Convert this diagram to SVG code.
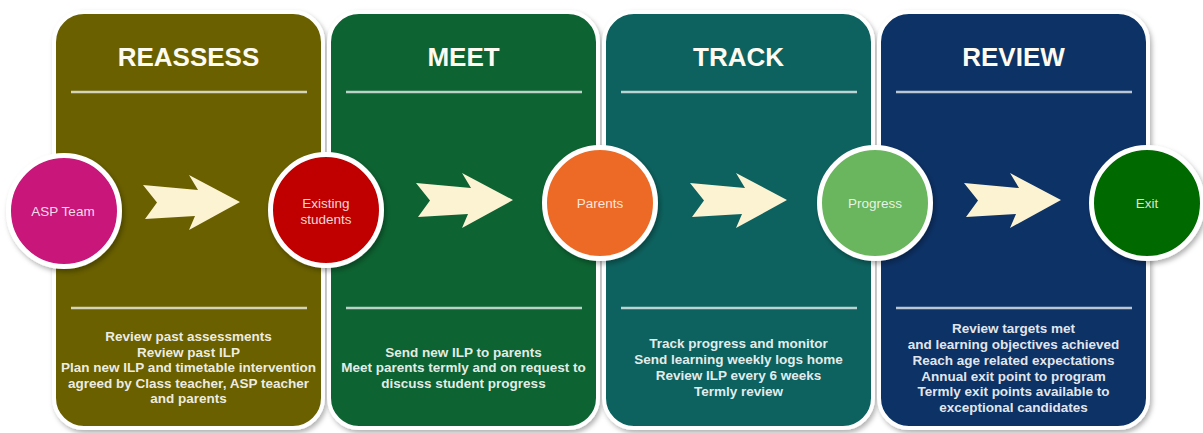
<svg xmlns="http://www.w3.org/2000/svg" width="1203" height="433" viewBox="0 0 1203 433">
<defs>
<filter id="sh" x="-10%" y="-10%" width="125%" height="125%"><feDropShadow dx="2" dy="3" stdDeviation="2.5" flood-color="#000" flood-opacity="0.3"/></filter>
<path id="arr" d="M0,10 L55,15 L46,0 L97,27 L46,55 L52,41 L2,44 L14,27.5 Z"/>
</defs>
<style>
.panel{stroke:#fff;stroke-width:4;filter:url(#sh)}
.div{stroke:#fff;stroke-opacity:0.72;stroke-width:2.5}
.title{font-family:"Liberation Sans",Arial,sans-serif;font-weight:bold;font-size:26px;fill:#fdfbf2;text-anchor:middle}
.body{font-family:"Liberation Sans",Arial,sans-serif;font-weight:bold;font-size:13.5px;fill:#fff;fill-opacity:0.9;text-anchor:middle}
.node{stroke:#fff;stroke-width:5;filter:url(#sh)}
.lbl{font-family:"Liberation Sans",Arial,sans-serif;font-size:13.5px;fill:#fff;fill-opacity:0.85;text-anchor:middle}
.arrow{fill:#fcf3d3}
</style>
<rect width="1203" height="433" fill="#fff"/>
<g id="panel-reassess">
<rect class="panel" x="54" y="12" width="269" height="416" rx="30" fill="#6a6100"/>
<text class="title" x="188.5" y="66">REASSESS</text>
<line class="div" x1="71" y1="92" x2="307" y2="92"/>
<line class="div" x1="71" y1="308" x2="307" y2="308"/>
<text class="body" x="188.5" y="341">Review past assessments</text>
<text class="body" x="188.5" y="357">Review past ILP</text>
<text class="body" x="188.5" y="372">Plan new ILP and timetable intervention</text>
<text class="body" x="188.5" y="388">agreed by Class teacher, ASP teacher</text>
<text class="body" x="188.5" y="403">and parents</text>
</g>
<g id="panel-meet">
<rect class="panel" x="329" y="12" width="269" height="416" rx="30" fill="#0d6432"/>
<text class="title" x="463.5" y="66">MEET</text>
<line class="div" x1="346" y1="92" x2="582" y2="92"/>
<line class="div" x1="346" y1="308" x2="582" y2="308"/>
<text class="body" x="463.5" y="357">Send new ILP to parents</text>
<text class="body" x="463.5" y="372">Meet parents termly and on request to</text>
<text class="body" x="463.5" y="388">discuss student progress</text>
</g>
<g id="panel-track">
<rect class="panel" x="604" y="12" width="269" height="416" rx="30" fill="#07625f"/>
<text class="title" x="738.5" y="66">TRACK</text>
<line class="div" x1="621" y1="92" x2="857" y2="92"/>
<line class="div" x1="621" y1="308" x2="857" y2="308"/>
<text class="body" x="738.5" y="348">Track progress and monitor</text>
<text class="body" x="738.5" y="364">Send learning weekly logs home</text>
<text class="body" x="738.5" y="380">Review ILP every 6 weeks</text>
<text class="body" x="738.5" y="396">Termly review</text>
</g>
<g id="panel-review">
<rect class="panel" x="879" y="12" width="269" height="416" rx="30" fill="#073366"/>
<text class="title" x="1013.5" y="66">REVIEW</text>
<line class="div" x1="896" y1="92" x2="1132" y2="92"/>
<line class="div" x1="896" y1="308" x2="1132" y2="308"/>
<text class="body" x="1013.5" y="333">Review targets met</text>
<text class="body" x="1013.5" y="349">and learning objectives achieved</text>
<text class="body" x="1013.5" y="365">Reach age related expectations</text>
<text class="body" x="1013.5" y="381">Annual exit point to program</text>
<text class="body" x="1013.5" y="396">Termly exit points available to</text>
<text class="body" x="1013.5" y="412">exceptional candidates</text>
</g>
<g id="connectors">
<use href="#arr" class="arrow" x="143" y="175"/>
<use href="#arr" class="arrow" x="416" y="173"/>
<use href="#arr" class="arrow" x="690" y="173"/>
<use href="#arr" class="arrow" x="964" y="173"/>
</g>
<g id="node-asp-team">
<circle class="node" cx="64" cy="211" r="55.5" fill="#c8157a"/>
<text class="lbl" x="63" y="216">ASP Team</text>
</g>
<g id="node-existing-students">
<circle class="node" cx="326" cy="210" r="55.5" fill="#c00000"/>
<text class="lbl" x="326" y="208">Existing</text>
<text class="lbl" x="326" y="224">students</text>
</g>
<g id="node-parents">
<circle class="node" cx="600" cy="203" r="55.5" fill="#ec6b25"/>
<text class="lbl" x="600" y="208">Parents</text>
</g>
<g id="node-progress">
<circle class="node" cx="875" cy="203" r="55.5" fill="#6bb65e"/>
<text class="lbl" x="875" y="208">Progress</text>
</g>
<g id="node-exit">
<circle class="node" cx="1147" cy="203" r="55.5" fill="#006900"/>
<text class="lbl" x="1147" y="208">Exit</text>
</g>
</svg>
